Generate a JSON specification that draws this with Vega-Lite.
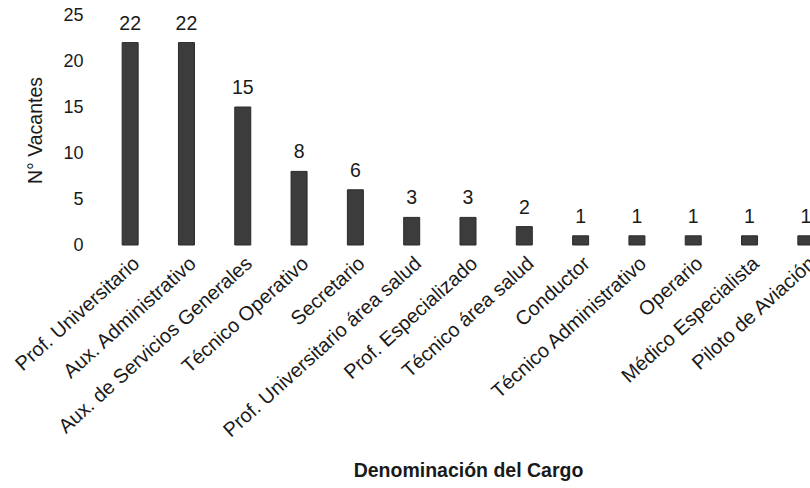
{
  "$schema": "https://vega.github.io/schema/vega-lite/v6.json",
  "autosize": "none",
  "padding": {"left": 102, "top": 15, "right": 0, "bottom": 243},
  "width": 732,
  "height": 230,
  "background": "white",
  "config": {"view": {"stroke": null}, "font": "Liberation Sans"},
  "data": {"values": [
    {"cargo": "Prof. Universitario", "n": 22},
    {"cargo": "Aux. Administrativo", "n": 22},
    {"cargo": "Aux. de Servicios Generales", "n": 15},
    {"cargo": "Técnico Operativo", "n": 8},
    {"cargo": "Secretario", "n": 6},
    {"cargo": "Prof. Universitario área salud", "n": 3},
    {"cargo": "Prof. Especializado", "n": 3},
    {"cargo": "Técnico área salud", "n": 2},
    {"cargo": "Conductor", "n": 1},
    {"cargo": "Técnico Administrativo", "n": 1},
    {"cargo": "Operario", "n": 1},
    {"cargo": "Médico Especialista", "n": 1},
    {"cargo": "Piloto de Aviación", "n": 1}
  ]},
  "encoding": {
    "x": {"field": "cargo", "type": "nominal", "sort": null,
      "axis": {"title": "Denominación del Cargo", "labelAngle": -42, "labelAlign": "right", "labelBaseline": "top",
        "labelFontSize": 20, "labelColor": "#1a1a1a", "domain": false, "ticks": false, "labelPadding": 8, "labelLimit": 400,
        "titleFontSize": 19.5, "titleFontWeight": "bold", "titleColor": "#1a1a1a", "titleY": 225, "titleAlign": "center", "titleBaseline": "middle"}},
    "y": {"field": "n", "type": "quantitative", "scale": {"domain": [0, 25]},
      "axis": {"title": "N° Vacantes", "values": [0, 5, 10, 15, 20, 25], "grid": false, "domain": false, "ticks": false,
        "labelFontSize": 18, "labelColor": "#1a1a1a", "labelPadding": 19, "titleFontSize": 19.5, "titleFontWeight": "normal", "titleColor": "#1a1a1a", "titlePadding": 17}}
  },
  "layer": [
    {"mark": {"type": "bar", "width": 16, "color": "#3c3c3c", "stroke": "#2a2a2a", "strokeWidth": 1}},
    {"mark": {"type": "text", "baseline": "alphabetic", "dy": -13, "fontSize": 19.5, "color": "#1a1a1a"},
     "encoding": {"text": {"field": "n", "type": "quantitative"}}}
  ]
}
